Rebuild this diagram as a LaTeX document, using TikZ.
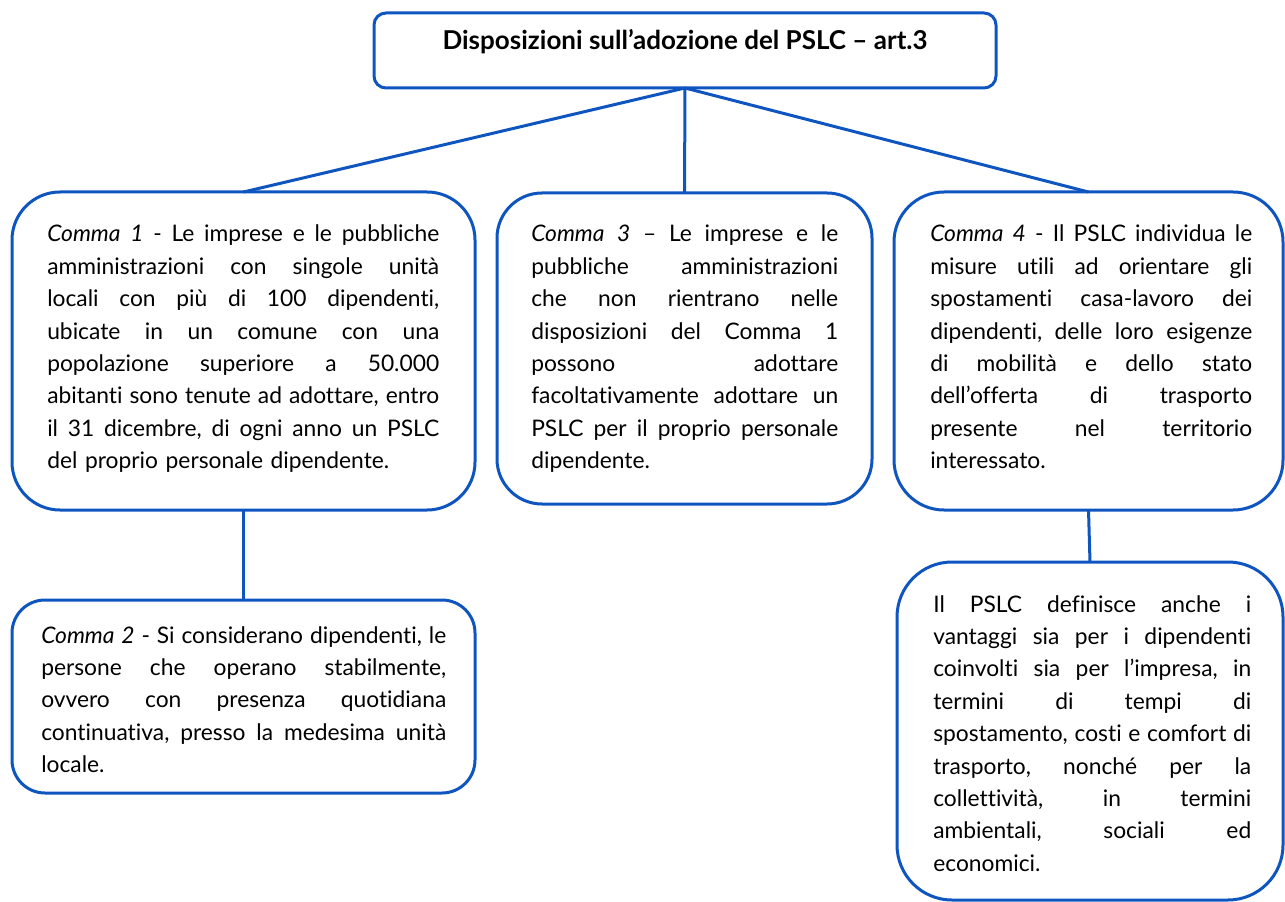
\documentclass[tikz,border=0pt]{standalone}
\usepackage{fontspec}
\setmainfont{Lato}[Ligatures=NoCommon]
\setlength{\parindent}{0pt}
\frenchspacing
\definecolor{bl}{HTML}{0F55C0}
\newcommand{\JL}[1]{\leavevmode\hbox to \hsize{\spaceskip=0.25em plus 1fil\xspaceskip=\spaceskip\relax #1}}
\begin{document}
\begin{tikzpicture}[x=0.75pt,y=-0.75pt,
  box/.style={draw=bl, line width=2.25pt, inner sep=0pt, outer sep=0pt},
  txt/.style={anchor=base west, inner sep=0pt, align=left,
    font=\fontsize{17.1pt}{24.3pt}\selectfont},
  conn/.style={draw=bl, line width=2.25pt}]
\useasboundingbox (0,0) rectangle (1285,902);
% boxes
\node[box, rounded corners=9pt, minimum width=466.5pt, minimum height=56.25pt] (t) at (685,50.5) {};
\node[box, rounded corners=36pt, minimum width=347.25pt, minimum height=238.5pt] (c1) at (243.5,351) {};
\node[box, rounded corners=33.75pt, minimum width=281.25pt, minimum height=233.25pt] (c3) at (684.5,348.5) {};
\node[box, rounded corners=37.5pt, minimum width=291.75pt, minimum height=238.5pt] (c4) at (1088.5,351) {};
\node[box, rounded corners=24.75pt, minimum width=347.25pt, minimum height=144.75pt] (c2) at (243.5,696.5) {};
\node[box, rounded corners=41.25pt, minimum width=289.5pt, minimum height=253.5pt] (c5) at (1090,731) {};
% connectors
\draw[conn] (t.south) -- (c1.north);
\draw[conn] (t.south) -- (c3.north);
\draw[conn] (t.south) -- (c4.north);
\draw[conn] (c1.south) -- (c2.north);
\draw[conn] (c4.south) -- (c5.north);
% texts
\node[anchor=base, inner sep=0pt, font=\fontsize{19.5pt}{22pt}\selectfont\bfseries] (tt) at (685,50) {Disposizioni sull’adozione del PSLC – art.3};
\node[txt, text width=294pt] (x1) at (47,242) {%
\JL{\textit{Comma 1} - Le imprese e le pubbliche}\\
\JL{amministrazioni con singole unità}\\
\JL{locali con più di 100 dipendenti,}\\
\JL{ubicate in un comune con una}\\
\JL{popolazione superiore a 50.000}\\
\JL{abitanti sono tenute ad adottare, entro}\\
\JL{il 31 dicembre, di ogni anno un PSLC}\\
del proprio personale dipendente.};
\node[txt, text width=230.25pt] (x3) at (531,242) {%
\JL{\textit{Comma 3} – Le imprese e le}\\
\JL{pubbliche amministrazioni}\\
\JL{che non rientrano nelle}\\
\JL{disposizioni del Comma 1}\\
\JL{possono adottare}\\
\JL{facoltativamente adottare un}\\
\JL{PSLC per il proprio personale}\\
dipendente.};
\node[txt, text width=241.5pt] (x4) at (930,242) {%
\JL{\textit{Comma 4} - Il PSLC individua le}\\
\JL{misure utili ad orientare gli}\\
\JL{spostamenti casa-lavoro dei}\\
\JL{dipendenti, delle loro esigenze}\\
\JL{di mobilità e dello stato}\\
\JL{dell’offerta di trasporto}\\
\JL{presente nel territorio}\\
interessato.};
\node[txt, text width=303.75pt] (x2) at (41,643) {%
\JL{\textit{Comma 2} - Si considerano dipendenti, le}\\
\JL{persone che operano stabilmente,}\\
\JL{ovvero con presenza quotidiana}\\
\JL{continuativa, presso la medesima unità}\\
locale.};
\node[txt, text width=238.5pt] (x5) at (933,612) {%
\JL{Il PSLC definisce anche i}\\
\JL{vantaggi sia per i dipendenti}\\
\JL{coinvolti sia per l’impresa, in}\\
\JL{termini di tempi di}\\
\JL{spostamento, costi e comfort di}\\
\JL{trasporto, nonché per la}\\
\JL{collettività, in termini}\\
\JL{ambientali, sociali ed}\\
economici.};
\end{tikzpicture}
\end{document}
